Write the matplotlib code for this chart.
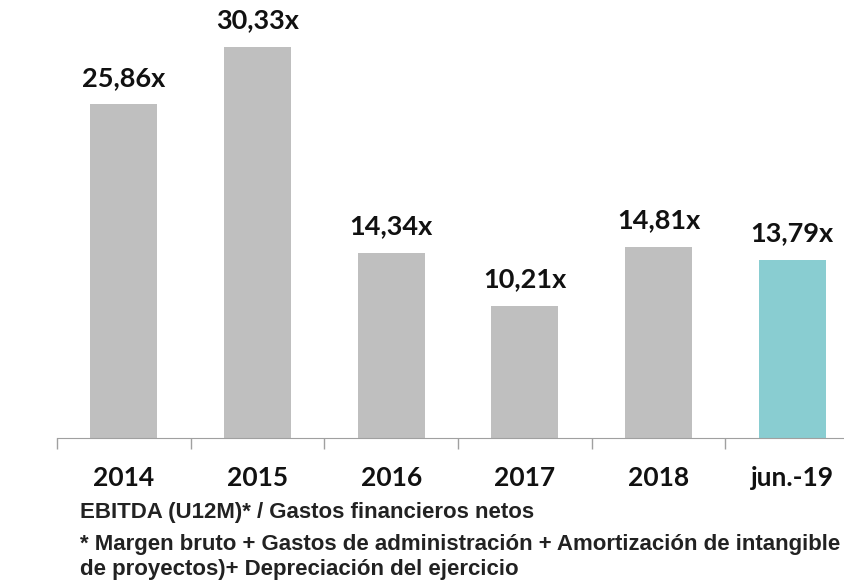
import matplotlib.pyplot as plt
import numpy as np

categories = ['2014', '2015', '2016', '2017', '2018', 'jun.-19']
values = [25.86, 30.33, 14.34, 10.21, 14.81, 13.79]
labels = ['25,86x', '30,33x', '14,34x', '10,21x', '14,81x', '13,79x']
colors = ['#bfbfbf', '#bfbfbf', '#bfbfbf', '#bfbfbf', '#bfbfbf', '#89cdd1']

W, H = 845, 580
fig = plt.figure(figsize=(W / 100, H / 100), dpi=100)
ax = fig.add_axes([57 / W, 142 / H, 802 / W, 438 / H])

x = np.arange(len(categories))
ax.bar(x, values, width=0.5, color=colors)
for xi, v, lab in zip(x, values, labels):
    ax.text(xi, v + 1.45, lab, ha='center', va='baseline', fontsize=19.5,
            fontweight='bold', family='Lato', color='#111111')

ax.set_xlim(-0.5, 5.5)
ax.set_ylim(0, 33.95)
for s in ['top', 'right', 'left']:
    ax.spines[s].set_visible(False)
ax.spines['bottom'].set_color('#a0a0a0')
ax.set_yticks([])
ax.set_xticks(x)
ax.set_xticklabels(categories, fontsize=19, fontweight='bold', family='Lato', color='#111111')
ax.tick_params(axis='x', which='major', length=0, pad=20)
ax.set_xticks(np.arange(-0.5, 6, 1), minor=True)
ax.tick_params(axis='x', which='minor', length=8, color='#a0a0a0', width=1)

note_style = dict(fontsize=16, fontweight='bold', family='Liberation Sans',
                  color='#222222', va='baseline')
fig.text(80 / W, 1 - 518 / H, 'EBITDA (U12M)* / Gastos financieros netos', **note_style)
fig.text(80 / W, 1 - 550 / H, '* Margen bruto + Gastos de administración + Amortización de intangible', **note_style)
fig.text(80 / W, 1 - 575 / H, 'de proyectos)+ Depreciación del ejercicio', **note_style)

fig.savefig('out.png', dpi=100)
